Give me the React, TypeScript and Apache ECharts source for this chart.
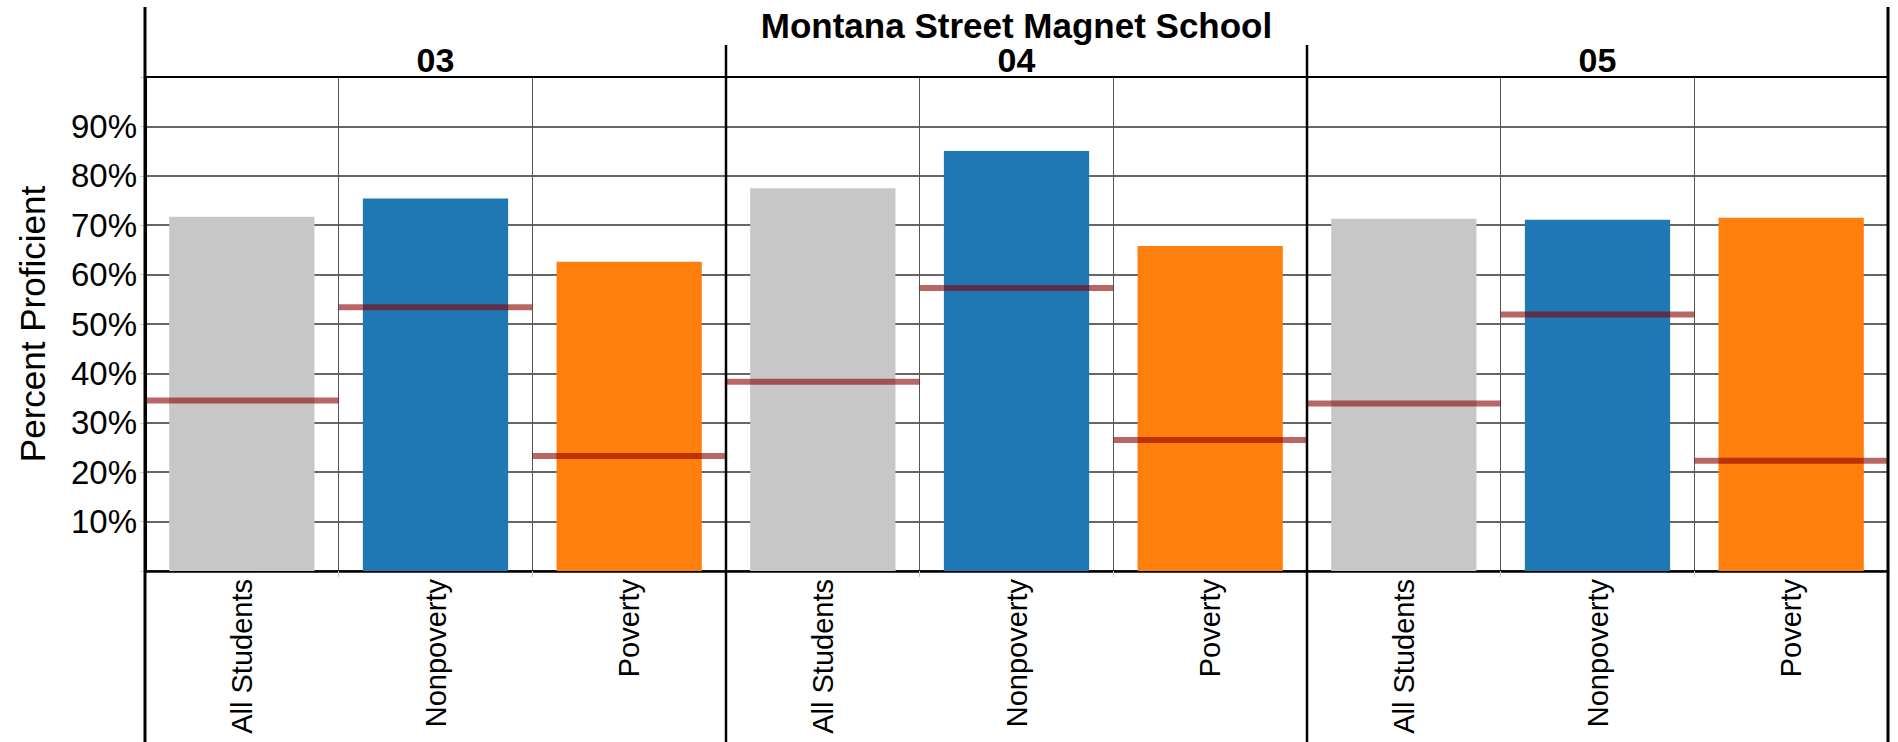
import React, { useEffect, useRef } from 'react';
import * as echarts from 'echarts';

const SCHOOL = 'Montana Street Magnet School';
const GRADES = ['03', '04', '05'];
const SUBGROUPS = ['All Students', 'Nonpoverty', 'Poverty'];
const SUBGROUP_COLORS = ['#c7c7c7', '#1f77b4', '#ff7f0e'];

// Percent proficient per grade (All Students, Nonpoverty, Poverty)
const PCT_03 = [71.7, 75.4, 62.6];
const PCT_04 = [77.5, 85.0, 65.8];
const PCT_05 = [71.3, 71.1, 71.5];

// Reference (target) line per grade
const REF_03 = [34.5, 53.4, 23.3];
const REF_04 = [38.3, 57.3, 26.5];
const REF_05 = [33.9, 51.9, 22.3];

const Y_MIN = 0;
const Y_MAX = 100;
const Y_STEP = 10;

const W = 1898;
const H = 742;
const GRID_LEFT = 145;
const GRID_RIGHT = 10;
const GRID_TOP = 77;
const GRID_BOTTOM = 171;
const FONT = '"Liberation Sans", Arial, Helvetica, sans-serif';

export default function App() {
  const ref = useRef<HTMLDivElement>(null);

  useEffect(() => {
    document.body.style.margin = '0';
    const chart = echarts.init(ref.current as HTMLDivElement, null, { renderer: 'svg' });

    const pctByGrade = [PCT_03, PCT_04, PCT_05];
    const refByGrade = [REF_03, REF_04, REF_05];
    const categories: string[] = [];
    const barData: any[] = [];
    const refData: any[] = [];
    GRADES.forEach((g, gi) => {
      SUBGROUPS.forEach((s, si) => {
        const idx = categories.length;
        categories.push(s);
        barData.push({ value: pctByGrade[gi][si], itemStyle: { color: SUBGROUP_COLORS[si] } });
        refData.push([idx, refByGrade[gi][si]]);
      });
    });

    const plotW = W - GRID_LEFT - GRID_RIGHT;
    const plotRight = GRID_LEFT + plotW;
    const groupW = plotW / GRADES.length;

    const graphics: any[] = [];
    graphics.push({
      type: 'line', z: 100,
      shape: { x1: GRID_LEFT, y1: 7, x2: GRID_LEFT, y2: H },
      style: { stroke: '#000', lineWidth: 3 },
    });
    graphics.push({
      type: 'line', z: 100,
      shape: { x1: plotRight, y1: 7, x2: plotRight, y2: H },
      style: { stroke: '#000', lineWidth: 3 },
    });
    for (let i = 1; i < GRADES.length; i++) {
      const x = GRID_LEFT + groupW * i;
      graphics.push({
        type: 'line', z: 100,
        shape: { x1: x, y1: 45, x2: x, y2: H },
        style: { stroke: '#000', lineWidth: 2.5 },
      });
    }
    graphics.push({
      type: 'line', z: 100,
      shape: { x1: GRID_LEFT, y1: GRID_TOP, x2: plotRight, y2: GRID_TOP },
      style: { stroke: '#000', lineWidth: 2 },
    });
    graphics.push({
      type: 'text', z: 100,
      x: GRID_LEFT + plotW / 2, y: 25,
      style: {
        text: SCHOOL, fill: '#000', font: `bold 35px ${FONT}`,
        align: 'center', verticalAlign: 'middle',
      },
    });
    GRADES.forEach((g, gi) => {
      graphics.push({
        type: 'text', z: 100,
        x: GRID_LEFT + groupW * (gi + 0.5), y: 60,
        style: {
          text: g, fill: '#000', font: `bold 34px ${FONT}`,
          align: 'center', verticalAlign: 'middle',
        },
      });
    });

    const option: any = {
      animation: false,
      backgroundColor: '#fff',
      textStyle: { fontFamily: FONT },
      grid: { left: GRID_LEFT, right: GRID_RIGHT, top: GRID_TOP, bottom: GRID_BOTTOM, containLabel: false },
      xAxis: {
        type: 'category',
        data: categories,
        boundaryGap: true,
        axisLine: { show: true, lineStyle: { color: '#000', width: 2.5 } },
        axisTick: { show: true, length: 6, lineStyle: { color: '#cccccc', width: 1 } },
        axisLabel: {
          interval: 0, rotate: 90, margin: 8, fontSize: 29, color: '#000', fontFamily: FONT,
        },
        splitLine: { show: true, interval: 0, lineStyle: { color: '#555', width: 1 } },
      },
      yAxis: {
        type: 'value',
        min: Y_MIN, max: Y_MAX, interval: Y_STEP,
        name: 'Percent Proficient',
        nameLocation: 'middle',
        nameGap: 95,
        nameTextStyle: { fontSize: 35, color: '#000', fontFamily: FONT },
        axisLine: { show: true, lineStyle: { color: '#000', width: 3 } },
        axisTick: { show: true, length: 5, lineStyle: { color: '#cccccc' } },
        axisLabel: {
          margin: 8, fontSize: 33, color: '#000', fontFamily: FONT,
          formatter: (v: number) => (v === Y_MIN || v === Y_MAX ? '' : `${v}%`),
        },
        splitLine: { show: true, lineStyle: { color: '#333', width: 1.5 } },
      },
      series: [
        {
          type: 'bar',
          data: barData,
          barWidth: '75%',
          z: 2,
        },
        {
          type: 'custom',
          data: refData,
          z: 5,
          encode: { x: 0, y: 1 },
          renderItem: (params: any, api: any) => {
            const c = api.coord([api.value(0), api.value(1)]);
            const w = api.size([1, 0])[0];
            return {
              type: 'rect',
              shape: { x: c[0] - w / 2, y: c[1] - 3, width: w, height: 6 },
              style: { fill: 'rgba(139,0,0,0.6)' },
            };
          },
        },
      ],
      graphic: graphics,
    };

    chart.setOption(option);
    return () => chart.dispose();
  }, []);

  return <div ref={ref} style={{ width: W, height: H }} />;
}
